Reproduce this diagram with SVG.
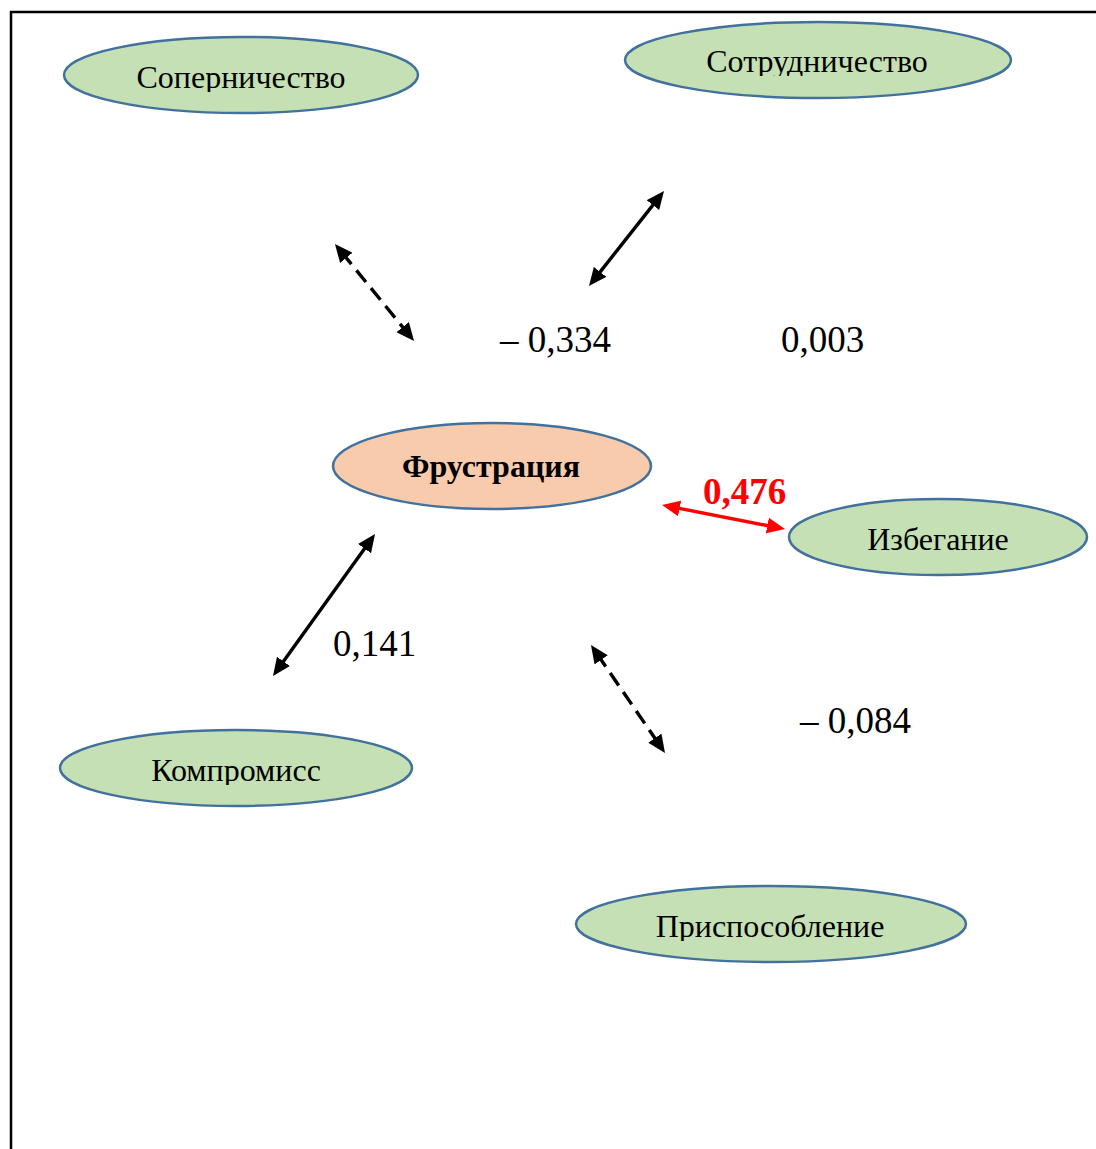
<svg xmlns="http://www.w3.org/2000/svg" width="1096" height="1149" viewBox="0 0 1096 1149">
<defs>
<style>
.node{fill:#C5E0B4;stroke:#41719C;stroke-width:2.5}
.center{fill:#F8CBAD;stroke:#41719C;stroke-width:2.5}
.lbl{font-family:"Liberation Serif","Times New Roman",serif;font-size:32px;fill:#000;text-anchor:middle}
.num{font-family:"Liberation Serif","Times New Roman",serif;font-size:37px;fill:#000}
.ln{stroke:#000;stroke-width:3.4;fill:none}
.dash{stroke-dasharray:15 8}
</style>
<marker id="ah" markerUnits="userSpaceOnUse" markerWidth="18" markerHeight="16" refX="7" refY="8" orient="auto-start-reverse" viewBox="0 0 18 16">
<path d="M0,0 L18,8 L0,16 z" fill="#000"/>
</marker>
<marker id="ahr" markerUnits="userSpaceOnUse" markerWidth="18" markerHeight="16" refX="7" refY="8" orient="auto-start-reverse" viewBox="0 0 18 16">
<path d="M0,0 L18,8 L0,16 z" fill="#FF0000"/>
</marker>
<clipPath id="c1"><rect x="60" y="40" width="360" height="52"/></clipPath>
<clipPath id="c2"><rect x="620" y="25" width="400" height="51"/></clipPath>
<clipPath id="c5"><rect x="60" y="735" width="360" height="50"/></clipPath>
<clipPath id="c6"><rect x="570" y="890" width="400" height="51"/></clipPath>
</defs>
<rect width="1096" height="1149" fill="#fff"/>
<path d="M11,1149 L11,12 L1096,12" stroke="#000" stroke-width="2.5" fill="none"/>

<g id="connectors">
<line class="ln dash" x1="341.9" y1="252.5" x2="407.1" y2="332.5" marker-start="url(#ah)" marker-end="url(#ah)"/>
<line class="ln" x1="595.8" y1="277.4" x2="657.2" y2="199.6" marker-start="url(#ah)" marker-end="url(#ah)"/>
<line class="ln" x1="672.8" y1="507.1" x2="774.2" y2="526.9" style="stroke:#FF0000" marker-start="url(#ahr)" marker-end="url(#ahr)"/>
<line class="ln" x1="279.4" y1="667.1" x2="368.6" y2="542.9" marker-start="url(#ah)" marker-end="url(#ah)"/>
<line class="ln dash" x1="597.2" y1="654.1" x2="658.8" y2="743.9" marker-start="url(#ah)" marker-end="url(#ah)"/>
<text class="num" x="500" y="352">– 0,334</text>
<text class="num" x="781" y="352">0,003</text>
<text class="num" x="703" y="504" style="fill:#FF0000;font-weight:bold">0,476</text>
<text class="num" x="333" y="656">0,141</text>
<text class="num" x="800" y="733">– 0,084</text>
</g>

<g id="n-sopernichestvo">
<ellipse class="node" cx="241" cy="75" rx="177" ry="38"/>
<text class="lbl" x="241" y="88" clip-path="url(#c1)">Соперничество</text>
</g>
<g id="n-sotrudnichestvo">
<ellipse class="node" cx="818" cy="60" rx="193" ry="38"/>
<text class="lbl" x="817" y="72" clip-path="url(#c2)">Сотрудничество</text>
</g>
<g id="n-frustratsiya">
<ellipse class="center" cx="492" cy="466" rx="159" ry="43"/>
<text class="lbl" x="491" y="477" style="font-weight:bold">Фрустрация</text>
</g>
<g id="n-izbeganie">
<ellipse class="node" cx="938" cy="537" rx="149" ry="38"/>
<text class="lbl" x="938" y="550">Избегание</text>
</g>
<g id="n-kompromiss">
<ellipse class="node" cx="236" cy="768" rx="176" ry="38"/>
<text class="lbl" x="236" y="781" clip-path="url(#c5)">Компромисс</text>
</g>
<g id="n-prisposoblenie">
<ellipse class="node" cx="771" cy="924" rx="195" ry="38"/>
<text class="lbl" x="770" y="937" clip-path="url(#c6)">Приспособление</text>
</g>
</svg>
